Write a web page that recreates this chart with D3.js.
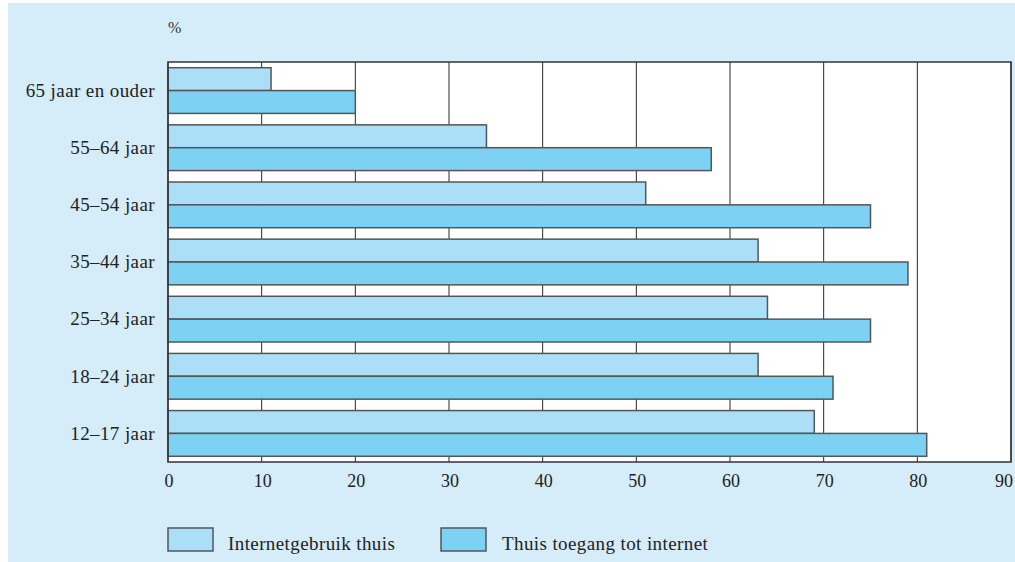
<!DOCTYPE html>
<html>
<head>
<meta charset="utf-8">
<script src="https://cdn.jsdelivr.net/npm/d3@7"></script>
<style>
  body { margin: 0; background: #fff; }
  text { font-family: "Liberation Serif", "DejaVu Serif", serif; fill: #222; }
</style>
</head>
<body>
<div id="chart"></div>
<script>
// leeftijdsgroepen, van boven naar onder
var groepen = ["65 jaar en ouder", "55–64 jaar", "45–54 jaar", "35–44 jaar", "25–34 jaar", "18–24 jaar", "12–17 jaar"]
var gebruikThuis = [11, 34, 51, 63, 64, 63, 69]
var toegangThuis = [20, 58, 75, 79, 75, 71, 81]
var reeksen = ["Internetgebruik thuis", "Thuis toegang tot internet"]
var ticks = [0, 10, 20, 30, 40, 50, 60, 70, 80, 90]

var kleur = ["#abdff8", "#7dd2f4"]
var W = 1015, H = 562
var plot = {left: 168, right: 1011, top: 62, bottom: 462}

var svg = d3.select("#chart").append("svg")
    .attr("width", W)
    .attr("height", H)

// lichtblauwe achtergrond
svg.append("rect")
    .attr("x", 8).attr("y", 3)
    .attr("width", W - 8).attr("height", H - 3)
    .attr("fill", "#d5ecf9")

var x = d3.scaleLinear().domain([0, 90]).range([plot.left, plot.right])
var y = d3.scaleBand().domain(groepen).range([plot.top, plot.bottom])
    .paddingInner(0.2).paddingOuter(0.1)
var sub = d3.scaleBand().domain(reeksen).range([0, y.bandwidth()])

// witte plot
svg.append("rect")
    .attr("x", plot.left).attr("y", plot.top)
    .attr("width", plot.right - plot.left).attr("height", plot.bottom - plot.top)
    .attr("fill", "#fff")

// verticale rasterlijnen
svg.selectAll("line.grid")
    .data(ticks)
    .enter()
    .append("line")
    .attr("class", "grid")
    .attr("x1", d => x(d)).attr("x2", d => x(d))
    .attr("y1", plot.top).attr("y2", plot.bottom)
    .attr("stroke", "#2a2a2a")
    .attr("stroke-width", 1)

var data = []
groepen.forEach(function(g, i){
    data.push({groep: g, reeks: reeksen[0], waarde: gebruikThuis[i], k: 0})
    data.push({groep: g, reeks: reeksen[1], waarde: toegangThuis[i], k: 1})
})

svg.selectAll("rect.bar")
    .data(data)
    .enter()
    .append("rect")
    .attr("class", "bar")
    .attr("x", x(0))
    .attr("y", d => y(d.groep) + sub(d.reeks))
    .attr("width", d => x(d.waarde) - x(0))
    .attr("height", sub.bandwidth())
    .attr("fill", d => kleur[d.k])
    .attr("stroke", "#555")
    .attr("stroke-width", 1.5)

// kader
svg.append("rect")
    .attr("x", plot.left).attr("y", plot.top)
    .attr("width", plot.right - plot.left).attr("height", plot.bottom - plot.top)
    .attr("fill", "none")
    .attr("stroke", "#333")
    .attr("stroke-width", 1.5)

// x-as labels
svg.selectAll("text.xt")
    .data(ticks)
    .enter()
    .append("text")
    .attr("class", "xt")
    .attr("x", d => d == 90 ? 1013 : x(d) + 1)
    .attr("y", 487)
    .attr("text-anchor", d => d == 90 ? "end" : "middle")
    .style("font-size", "18px")
    .text(d => d)

// y-as labels
svg.selectAll("text.yt")
    .data(groepen)
    .enter()
    .append("text")
    .attr("class", "yt")
    .attr("x", 155)
    .attr("y", d => y(d) + y.bandwidth() / 2)
    .attr("dy", "0.33em")
    .attr("text-anchor", "end")
    .style("font-size", "19px")
    .style("letter-spacing", "0.4px")
    .text(d => d)

svg.append("text")
    .attr("x", 168).attr("y", 33)
    .style("font-size", "16px")
    .style("fill", "#333")
    .text("%")

// legenda
var legX = [168, 441], legT = [228, 502]
reeksen.forEach(function(r, i){
    svg.append("rect")
        .attr("x", legX[i]).attr("y", 528)
        .attr("width", 45).attr("height", 23)
        .attr("fill", kleur[i])
        .attr("stroke", "#555")
        .attr("stroke-width", 1.5)
    svg.append("text")
        .attr("x", legT[i]).attr("y", 550)
        .style("font-size", "19px")
        .style("letter-spacing", "0.4px")
        .text(r)
})
</script>
</body>
</html>
